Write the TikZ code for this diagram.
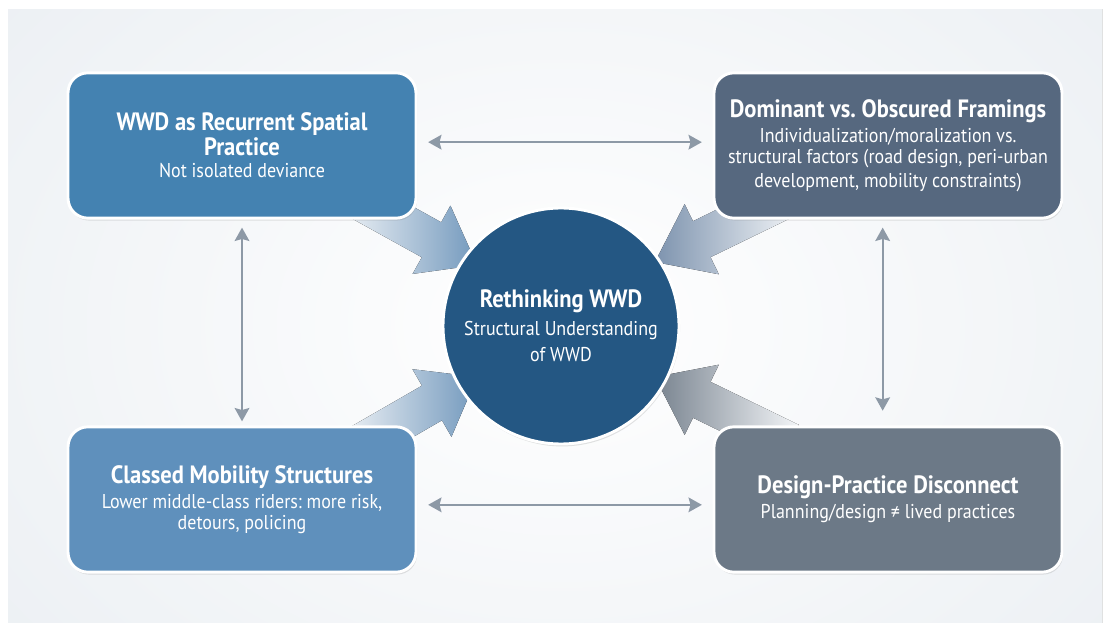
\documentclass[tikz,border=0pt]{standalone}
\usepackage{fontspec}
\setmainfont[FakeStretch=0.9]{PT Sans}
\frenchspacing
\definecolor{bg_c}{HTML}{EBEFF3}
\definecolor{box_tl}{HTML}{4482B1}
\definecolor{box_tr}{HTML}{56687F}
\definecolor{box_bl}{HTML}{5F90BC}
\definecolor{box_br}{HTML}{6C7987}
\definecolor{hub_c}{HTML}{245783}
\definecolor{link_c}{HTML}{8D99A6}
\definecolor{fat_blue}{HTML}{7399BD}
\definecolor{fat_slate}{HTML}{7D93AE}
\definecolor{fat_gray}{HTML}{78838F}
\newcommand{\boxhead}{\fontsize{18.8}{18}\selectfont\bfseries}
\newcommand{\boxsub}{\fontsize{15}{17.3}\selectfont\mdseries}
\usetikzlibrary{arrows.meta,
                calc,
                positioning,
                shadows}

\begin{document}
\begin{tikzpicture}[
			x=0.75pt, y=0.75pt,
			card/.style = {rounded corners=15pt, draw=white, line width=2.2pt,
				minimum width=261pt, minimum height=109pt, text=white, align=center,
				drop shadow={shadow xshift=0.8pt, shadow yshift=-1.8pt, opacity=0.22}},
			hub/.style = {circle, draw=white, line width=2.2pt, fill=hub_c, minimum size=177pt,
				text=white, align=center,
				drop shadow={shadow xshift=0.8pt, shadow yshift=-1.8pt, opacity=0.22}},
			link/.style = {draw=link_c, line width=1.5pt,
				{Stealth[length=10pt, width=11pt, inset=1.5pt]}-{Stealth[length=10pt, width=11pt, inset=1.5pt]}},
			fat/.style = {left color=bg_c!60!white, right color=#1},
			fatback/.style = {left color=#1, right color=bg_c!60!white},
			]
			\useasboundingbox (0,0) rectangle (1110,625);
			% panel
			\fill[white] (0,0) rectangle (1110,625);
			\begin{scope}
				\clip (8,3) rectangle (1102,615);
				\fill[inner color=white, outer color=bg_c] (561,300) ellipse (760 and 560);
			\end{scope}
			% fat arrows into the hub
			\coordinate (hc) at (561,299);
			\begin{scope}[shift={(477,360)}, rotate=-29]
				\fill[fat=fat_blue] (0,0) -- (-52,39) -- (-52,20) -- (-150,20) -- (-150,-20) -- (-52,-20) -- (-52,-39) -- cycle;
			\end{scope}
			\begin{scope}[shift={(655,363)}, rotate=-154]
				\fill[fatback=fat_slate] (0,0) -- (-52,39) -- (-52,20) -- (-150,20) -- (-150,-20) -- (-52,-20) -- (-52,-39) -- cycle;
			\end{scope}
			\begin{scope}[shift={(477,248)}, rotate=30]
				\fill[fat=fat_blue] (0,0) -- (-52,39) -- (-52,20) -- (-150,20) -- (-150,-20) -- (-52,-20) -- (-52,-39) -- cycle;
			\end{scope}
			\begin{scope}[shift={(655,248)}, rotate=154]
				\fill[fatback=fat_gray] (0,0) -- (-52,39) -- (-52,20) -- (-150,20) -- (-150,-20) -- (-52,-20) -- (-52,-39) -- cycle;
			\end{scope}
			% boxes, over the arrow tails
			\node[card, fill=box_tl] (tl) at (242,479.5) {\boxhead WWD as Recurrent Spatial\\\boxhead Practice\\[5pt]\boxsub Not isolated deviance};
			\node[card, fill=box_tr] (tr) at (888,479.5) {\boxhead Dominant vs. Obscured Framings\\[3pt]\boxsub Individualization/moralization vs.\\[2.5pt]\boxsub structural factors (road design, peri-urban\\[2.5pt]\boxsub development, mobility constraints)};
			\node[card, fill=box_bl] (bl) at (242,125.5) {\boxhead Classed Mobility Structures\\[3pt]\boxsub Lower middle-class riders: more risk,\\[2pt]\boxsub detours, policing};
			\node[card, fill=box_br] (br) at (888,125.5) {\boxhead Design-Practice Disconnect\\[3pt]\boxsub Planning/design ≠ lived practices};
			% hub
			\node[hub] (hub) at (hc) {\boxhead Rethinking WWD\\[5pt]\boxsub Structural Understanding\\[5pt]\boxsub of WWD};
			% thin links
			\draw[link] ([xshift=8pt, yshift=2.5pt]tl.east) -- ([xshift=-8pt, yshift=2.5pt]tr.west);
			\draw[link] ([xshift=8pt, yshift=-4pt]bl.east) -- ([xshift=-8pt, yshift=-4pt]br.west);
			\draw[link] ([yshift=-6pt]tl.south) -- ([yshift=3pt]bl.north);
			\draw[link] ([xshift=-4pt, yshift=-6pt]tr.south) -- ([xshift=-4pt, yshift=11pt]br.north);
		\end{tikzpicture}
\end{document}
